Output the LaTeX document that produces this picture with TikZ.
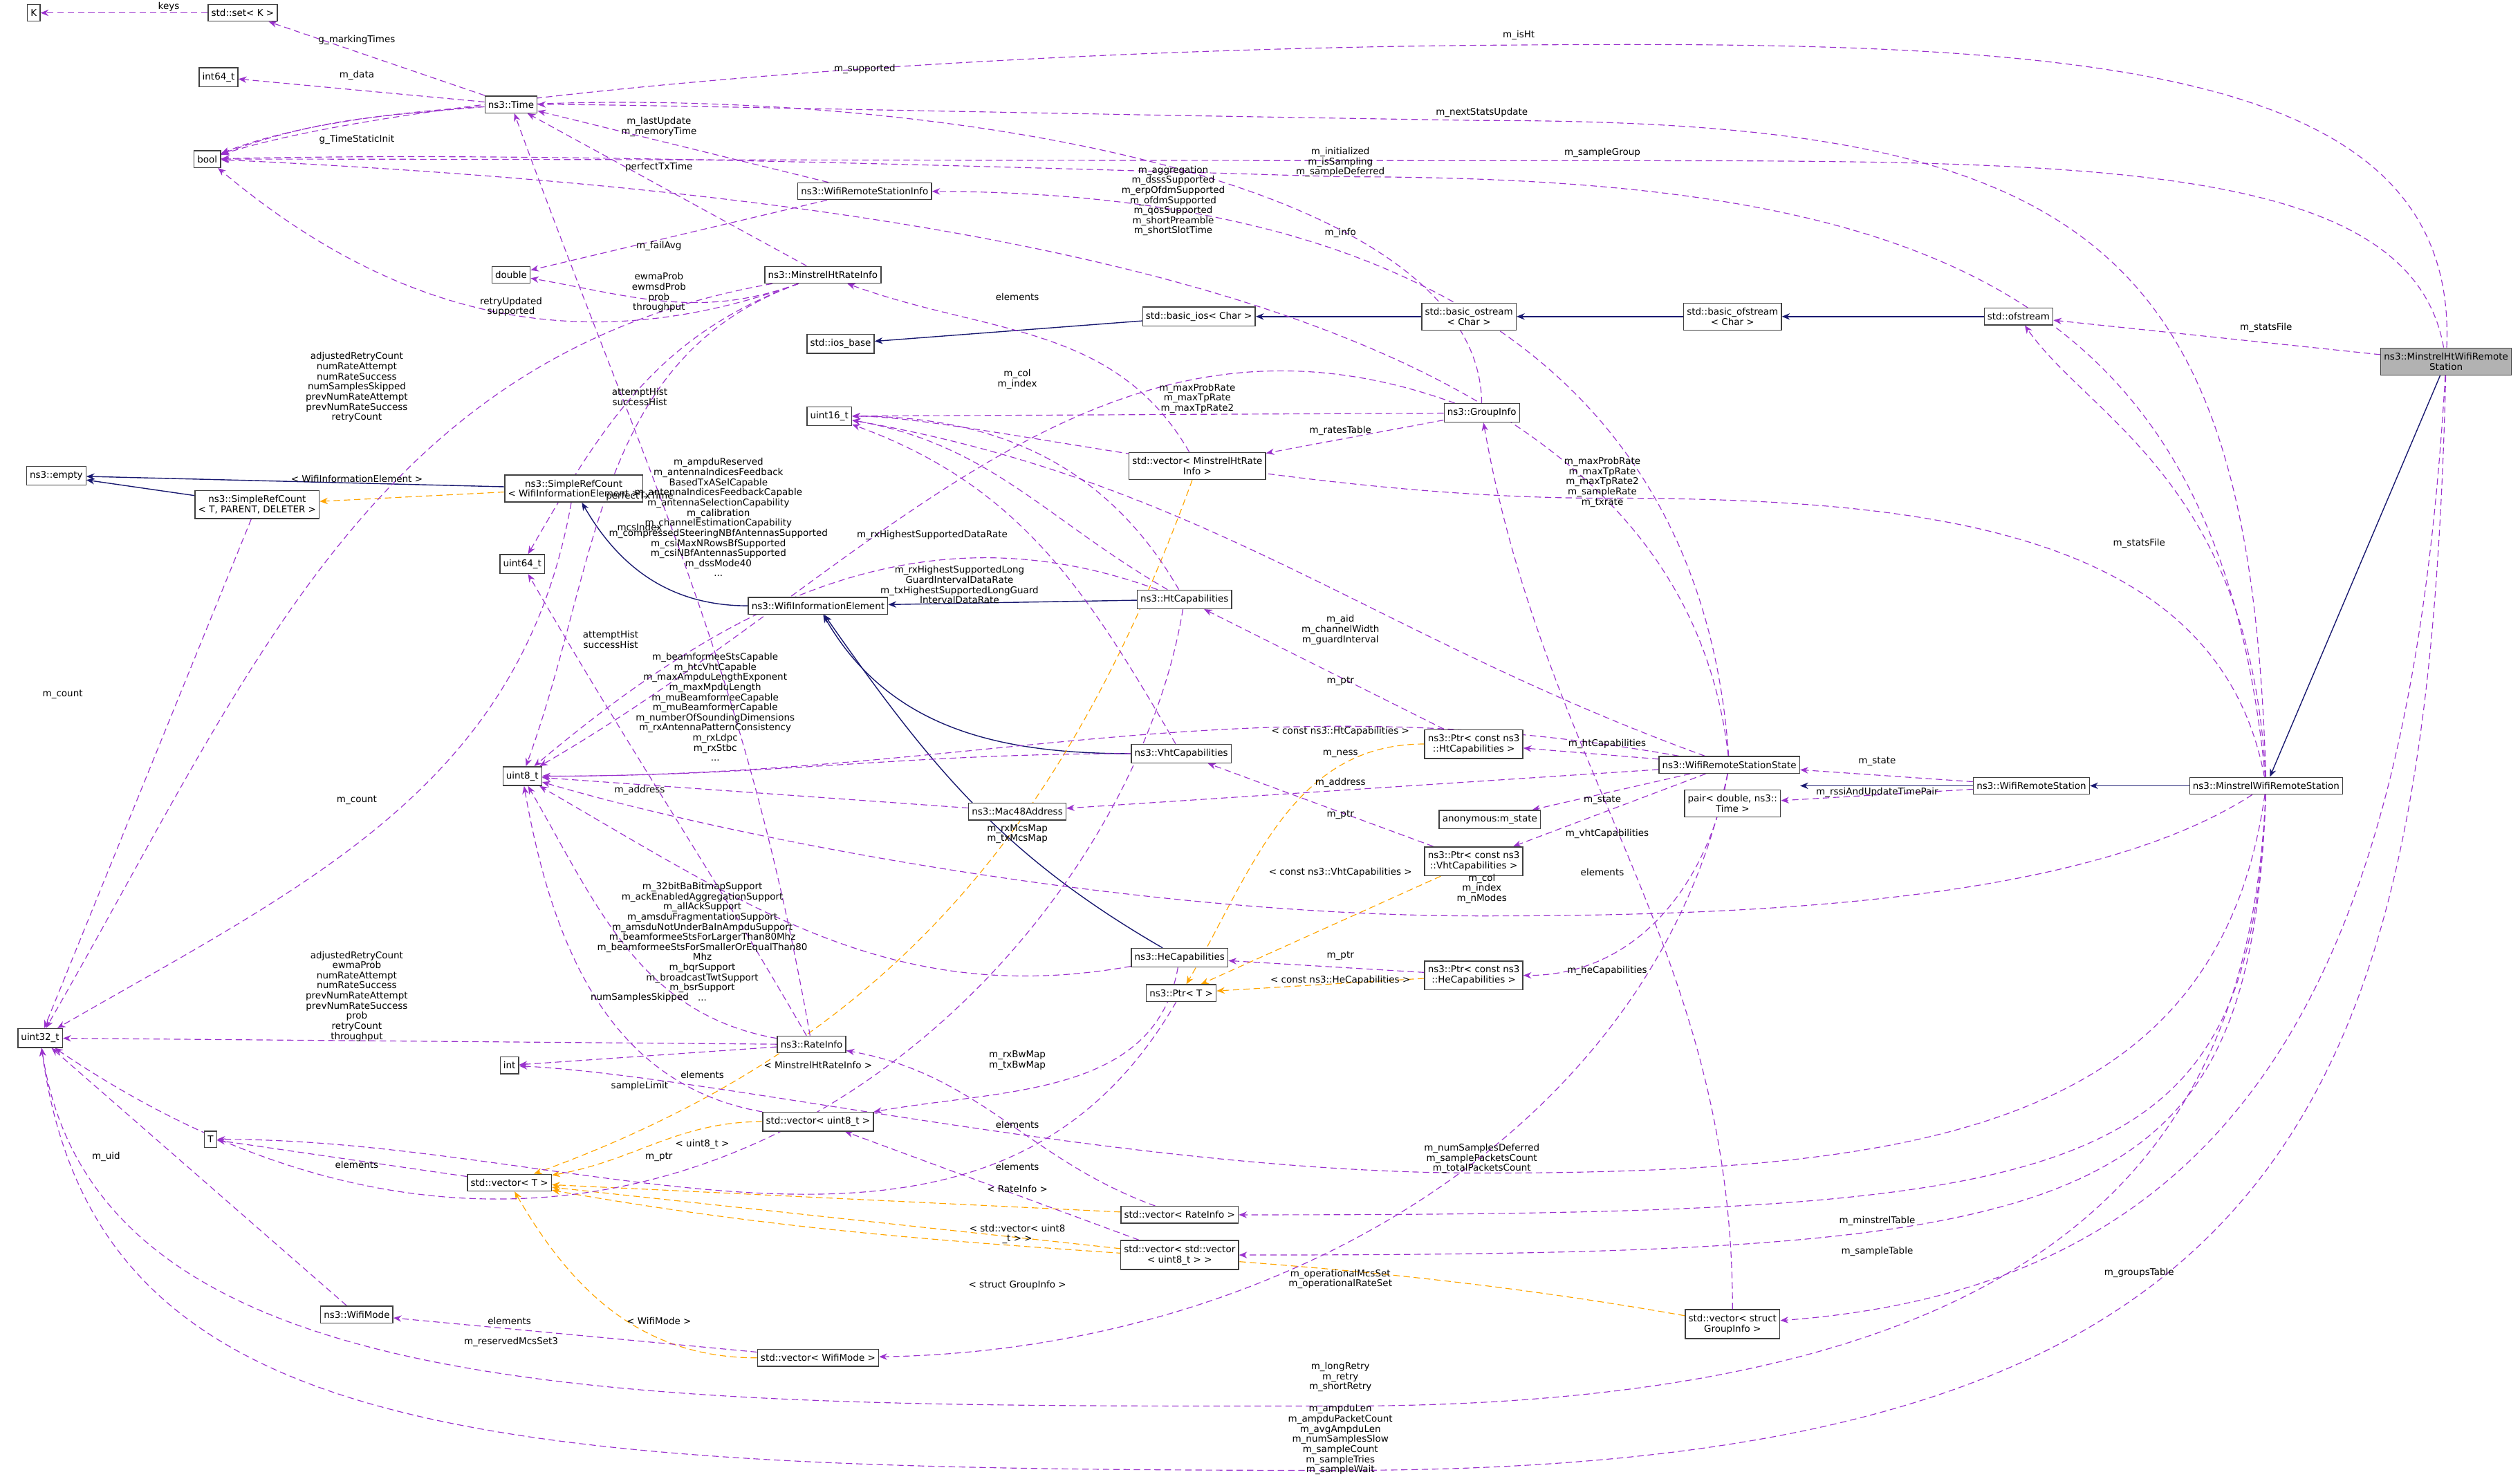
\documentclass[tikz,border=0pt]{standalone}
\usepackage{fontspec}
\setmainfont{DejaVu Sans}
\usetikzlibrary{arrows.meta}
\definecolor{memb}{HTML}{9A32CD}
\definecolor{inh}{HTML}{191970}
\definecolor{tmpl}{HTML}{FFA500}
\pgfdeclarelayer{background}
\pgfsetlayers{background,main}
\tikzset{
  box/.style={draw=black!75, line width=0.3pt, fill=white, inner xsep=1pt, inner ysep=1.5pt, align=center, font=\fontsize{2.9}{3.2}\selectfont},
  lbl/.style={inner sep=0pt, align=center, font=\fontsize{2.9}{3.15}\selectfont},
  member/.style={draw=memb, dash pattern=on 2pt off 1.2pt, line width=0.25pt, -{Stealth[length=2.5pt,width=2pt]}},
  inherit/.style={draw=inh, line width=0.3pt, -{Stealth[length=2.5pt,width=2pt]}},
  templ/.style={draw=tmpl, dash pattern=on 2pt off 1.2pt, line width=0.25pt, -{Stealth[length=2.5pt,width=2pt]}}
}
\begin{document}
\begin{tikzpicture}[x=0.5pt,y=-0.5pt]
    \useasboundingbox (0,0) rectangle (1568,920.4);
    % Clases y tipos
    \node[box] (K) at (21,8) {K};
    \node[box] (setK) at (151,8) {std::set< K >};
    \node[box] (int64) at (136,48) {int64\_t};
    \node[box] (time) at (318,65) {ns3::Time};
    \node[box] (bool) at (129,99) {bool};
    \node[box] (double) at (318,171) {double};
    \node[box] (rsinfo) at (538,119) {ns3::WifiRemoteStationInfo};
    \node[box] (mhtri) at (512,171) {ns3::MinstrelHtRateInfo};
    \node[box] (iosbase) at (523,214) {std::ios\_base};
    \node[box] (basicios) at (746,197) {std::basic\_ios< Char >};
    \node[box] (ostream) at (914,197) {std::basic\_ostream\\< Char >};
    \node[box] (ofstreamb) at (1078,197) {std::basic\_ofstream\\< Char >};
    \node[box] (ofstream) at (1256,197) {std::ofstream};
    \node[box, fill=black!30] (mhtwrs) at (1522,225) {ns3::MinstrelHtWifiRemote\\Station};
    \node[box] (uint16) at (516,259) {uint16\_t};
    \node[box] (groupinfo) at (922,257) {ns3::GroupInfo};
    \node[box] (vecmhtri) at (745,290) {std::vector< MinstrelHtRate\\Info >};
    \node[box] (empty) at (35,296) {ns3::empty};
    \node[box] (srcT) at (160,314) {ns3::SimpleRefCount\\< T, PARENT, DELETER >};
    \node[box] (srcWIE) at (357,304) {ns3::SimpleRefCount\\< WifiInformationElement >};
    \node[box] (uint64) at (325,351) {uint64\_t};
    \node[box] (wie) at (509,377) {ns3::WifiInformationElement};
    \node[box] (htcap) at (737,373) {ns3::HtCapabilities};
    \node[box] (vhtcap) at (735,469) {ns3::VhtCapabilities};
    \node[box] (uint8) at (325,483) {uint8\_t};
    \node[box] (mac48) at (633,505) {ns3::Mac48Address};
    \node[box] (ptrht) at (917,463) {ns3::Ptr< const ns3\\::HtCapabilities >};
    \node[box] (anonstate) at (927,510) {anonymous:m\_state};
    \node[box] (ptrvht) at (917,536) {ns3::Ptr< const ns3\\::VhtCapabilities >};
    \node[box] (wrss) at (1076,476) {ns3::WifiRemoteStationState};
    \node[box] (wrs) at (1264,489) {ns3::WifiRemoteStation};
    \node[box] (mwrs) at (1410,489) {ns3::MinstrelWifiRemoteStation};
    \node[box] (pair) at (1078,500) {pair< double, ns3::\\Time >};
    \node[box] (hecap) at (734,596) {ns3::HeCapabilities};
    \node[box] (ptrT) at (735,618) {ns3::Ptr< T >};
    \node[box] (ptrhe) at (917,607) {ns3::Ptr< const ns3\\::HeCapabilities >};
    \node[box] (uint32) at (25,646) {uint32\_t};
    \node[box] (rateinfo) at (505,650) {ns3::RateInfo};
    \node[box] (int) at (317,663) {int};
    \node[box] (vecu8) at (509,698) {std::vector< uint8\_t >};
    \node[box] (T) at (131,709) {T};
    \node[box] (vecT) at (317,736) {std::vector< T >};
    \node[box] (vecri) at (734,756) {std::vector< RateInfo >};
    \node[box] (vecvec) at (734,781) {std::vector< std::vector\\< uint8\_t > >};
    \node[box] (wifimode) at (222,818) {ns3::WifiMode};
    \node[box] (vecwm) at (509,845) {std::vector< WifiMode >};
    \node[box] (vecgi) at (1078,824) {std::vector< struct\\GroupInfo >};

    \begin{pgfonlayer}{background}
    % Herencia
    \draw[inherit] (basicios) -- (iosbase);
    \draw[inherit] (ostream) -- (basicios);
    \draw[inherit] (ofstreamb) -- (ostream);
    \draw[inherit] (ofstream) -- (ofstreamb);
    \draw[inherit] (srcWIE) -- (empty);
    \draw[inherit] (srcT) -- (empty);
    \draw[inherit] (wie) to[out=180,in=-60] (srcWIE);
    \draw[inherit] (htcap) -- (wie);
    \draw[inherit] (vhtcap) to[out=180,in=-60] (wie);
    \draw[inherit] (hecap) to[out=150,in=-55] (wie);
    \draw[inherit] (wrs) -- (wrss.east |- wrs);
    \draw[inherit] (mwrs) -- (wrs);
    \draw[inherit] (mhtwrs) -- (mwrs);

    % Plantillas
    \draw[templ] (srcWIE) -- (srcT);
    \draw[templ] (vecmhtri) to[out=-110,in=20] (vecT);
    \draw[templ] (vecu8) to[out=180,in=10] (vecT);
    \draw[templ] (vecri) -- (vecT);
    \draw[templ] (vecvec) -- (vecT);
    \draw[templ] (vecgi) to[out=170,in=-10] (vecT);
    \draw[templ] (vecwm) to[out=180,in=-60] (vecT);
    \draw[templ] (ptrht) to[out=180,in=60] (ptrT);
    \draw[templ] (ptrvht) -- (ptrT);
    \draw[templ] (ptrhe) -- (ptrT);

    % Miembros
    \draw[member] (setK) -- (K);
    \draw[member] (time) -- (setK);
    \draw[member] (time) -- (int64);
    \draw[member] (time) to[out=185,in=20] (bool);
    \draw[member] (rsinfo) -- (time);
    \draw[member] (rsinfo) -- (double);
    \draw[member] (mhtri) -- (time);
    \draw[member] (mhtri) to[out=200,in=-10] (double);
    \draw[member] (mhtri) to[out=200,in=-40] (bool);
    \draw[member] (mhtri) to[out=190,in=60] (uint32);
    \draw[member] (mhtri) to[out=200,in=60] (uint64);
    \draw[member] (mhtri) to[out=200,in=70] (uint8);
    \draw[member] (rateinfo) to[out=100,in=-70] (time);
    \draw[member] (rateinfo) -- (uint32);
    \draw[member] (rateinfo) to[out=170,in=-60] (uint8);
    \draw[member] (rateinfo) to[out=120,in=-60] (uint64);
    \draw[member] (rateinfo) -- (int);
    \draw[member] (srcWIE) to[out=-100,in=30] (uint32);
    \draw[member] (srcT) -- (uint32);
    \draw[member] (htcap) to[out=160,in=40] (uint8);
    \draw[member] (htcap) to[out=150,in=-10] (uint16);
    \draw[member] (htcap) to[out=120,in=0] (uint16);
    \draw[member] (htcap) .. controls (700,600) and (400,900) .. (uint32);
    \draw[member] (vhtcap) to[out=180,in=0] (uint8);
    \draw[member] (vhtcap) to[out=120,in=-20] (uint16);
    \draw[member] (hecap) to[out=190,in=-30] (uint8);
    \draw[member] (hecap) to[out=-100,in=10] (vecu8);
    \draw[member] (mac48) -- (uint8);
    \draw[member] (groupinfo) -- (uint16);
    \draw[member] (groupinfo) to[out=160,in=30] (uint8);
    \draw[member] (groupinfo) -- (vecmhtri);
    \draw[member] (groupinfo) .. controls (920,60) and (300,30) .. (bool);
    \draw[member] (vecmhtri) to[out=120,in=-20] (mhtri);
    \draw[member] (vecu8) to[out=170,in=-80] (uint8);
    \draw[member] (vecT) -- (T);
    \draw[member] (vecri) to[out=160,in=-10] (rateinfo);
    \draw[member] (vecvec) -- (vecu8);
    \draw[member] (vecgi) to[out=90,in=-80] (groupinfo);
    \draw[member] (vecwm) -- (wifimode);
    \draw[member] (wifimode) -- (uint32);
    \draw[member] (ptrT) to[out=-120,in=0] (T);
    \draw[member] (ptrht) -- (htcap);
    \draw[member] (ptrvht) -- (vhtcap);
    \draw[member] (ptrhe) -- (hecap);
    \draw[member] (wrss) -- (ptrht);
    \draw[member] (wrss) -- (ptrvht);
    \draw[member] (wrss) to[out=-100,in=0] (ptrhe);
    \draw[member] (wrss) -- (anonstate);
    \draw[member] (wrss) -- (mac48);
    \draw[member] (wrss) to[out=160,in=-10] (uint16);
    \draw[member] (wrss) to[out=170,in=0] (uint8);
    \draw[member] (wrss) .. controls (1050,250) and (800,130) .. (bool);
    \draw[member] (wrss) .. controls (1060,250) and (900,120) .. (rsinfo);
    \draw[member] (wrss) .. controls (1030,700) and (800,840) .. (vecwm);
    \draw[member] (wrs) -- (wrss);
    \draw[member] (wrs) -- (pair);
    \draw[member] (mhtwrs) -- (ofstream);
    \draw[member] (mhtwrs) .. controls (1530,40) and (1300,25) .. (945,28) .. controls (600,30) and (250,60) .. (bool);
    \draw[member] (mhtwrs) .. controls (1500,600) and (1400,800) .. (vecgi);
    \draw[member] (mhtwrs) .. controls (1510,700) and (1420,915) .. (834,915) .. controls (300,915) and (60,900) .. (uint32);
    \draw[member] (mhtwrs) .. controls (1500,100) and (1300,100) .. (997,100) .. controls (600,100) and (300,99) .. (bool);
    \draw[member] (mwrs) .. controls (1400,300) and (1300,260) .. (ofstream);
    \draw[member] (mwrs) .. controls (1400,150) and (1300,75) .. (922,75) .. controls (600,70) and (400,65) .. (time);
    \draw[member] (mwrs) .. controls (1380,180) and (1200,110) .. (834,110) .. controls (500,100) and (300,95) .. (bool);
    \draw[member] (mwrs) .. controls (1380,330) and (1200,310) .. (997,310) .. controls (800,310) and (600,259) .. (uint16);
    \draw[member] (mwrs) .. controls (1300,560) and (1100,570) .. (922,570) .. controls (700,570) and (450,520) .. (uint8);
    \draw[member] (mwrs) .. controls (1380,700) and (1200,730) .. (922,730) .. controls (700,730) and (450,670) .. (int);
    \draw[member] (mwrs) .. controls (1400,740) and (1300,756) .. (vecri);
    \draw[member] (mwrs) .. controls (1400,760) and (1300,781) .. (vecvec);
    \draw[member] (mwrs) .. controls (1400,700) and (1300,875) .. (834,875) .. controls (400,875) and (60,880) .. (uint32);
    \end{pgfonlayer}

    % Etiquetas
    \node[lbl] at (105,4) {keys};
    \node[lbl] at (222,25) {g\_markingTimes};
    \node[lbl] at (222,47) {m\_data};
    \node[lbl] at (222,87) {g\_TimeStaticInit};
    \node[lbl] at (410,79) {m\_lastUpdate\\m\_memoryTime};
    \node[lbl] at (410,104) {perfectTxTime};
    \node[lbl] at (410,153) {m\_failAvg};
    \node[lbl] at (410,182) {ewmaProb\\ewmsdProb\\prob\\throughput};
    \node[lbl] at (318,191) {retryUpdated\\supported};
    \node[lbl] at (222,241) {adjustedRetryCount\\numRateAttempt\\numRateSuccess\\numSamplesSkipped\\prevNumRateAttempt\\prevNumRateSuccess\\retryCount};
    \node[lbl] at (398,247) {attemptHist\\successHist};
    \node[lbl] at (398,309) {perfectTxTime};
    \node[lbl] at (398,328) {mcsIndex};
    \node[lbl] at (222,298) {< WifiInformationElement >};
    \node[lbl] at (538,43) {m\_supported};
    \node[lbl] at (945,22) {m\_isHt};
    \node[lbl] at (922,70) {m\_nextStatsUpdate};
    \node[lbl] at (834,101) {m\_initialized\\m\_isSampling\\m\_sampleDeferred};
    \node[lbl] at (997,95) {m\_sampleGroup};
    \node[lbl] at (730,125) {m\_aggregation\\m\_dsssSupported\\m\_erpOfdmSupported\\m\_ofdmSupported\\m\_qosSupported\\m\_shortPreamble\\m\_shortSlotTime};
    \node[lbl] at (834,145) {m\_info};
    \node[lbl] at (633,185) {elements};
    \node[lbl] at (1410,204) {m\_statsFile};
    \node[lbl] at (633,236) {m\_col\\m\_index};
    \node[lbl] at (745,248) {m\_maxProbRate\\m\_maxTpRate\\m\_maxTpRate2};
    \node[lbl] at (834,268) {m\_ratesTable};
    \node[lbl] at (997,300) {m\_maxProbRate\\m\_maxTpRate\\m\_maxTpRate2\\m\_sampleRate\\m\_txrate};
    \node[lbl] at (1331,338) {m\_statsFile};
    \node[lbl] at (39,432) {m\_count};
    \node[lbl] at (222,498) {m\_count};
    \node[lbl] at (447,322) {m\_ampduReserved\\m\_antennaIndicesFeedback\\BasedTxASelCapable\\m\_antennaIndicesFeedbackCapable\\m\_antennaSelectionCapability\\m\_calibration\\m\_channelEstimationCapability\\m\_compressedSteeringNBfAntennasSupported\\m\_csiMaxNRowsBfSupported\\m\_csiNBfAntennasSupported\\m\_dssMode40\\...};
    \node[lbl] at (580,333) {m\_rxHighestSupportedDataRate};
    \node[lbl] at (597,364) {m\_rxHighestSupportedLong\\GuardIntervalDataRate\\m\_txHighestSupportedLongGuard\\IntervalDataRate};
    \node[lbl] at (834,392) {m\_aid\\m\_channelWidth\\m\_guardInterval};
    \node[lbl] at (834,424) {m\_ptr};
    \node[lbl] at (380,398) {attemptHist\\successHist};
    \node[lbl] at (445,440) {m\_beamformeeStsCapable\\m\_htcVhtCapable\\m\_maxAmpduLengthExponent\\m\_maxMpduLength\\m\_muBeamformeeCapable\\m\_muBeamformerCapable\\m\_numberOfSoundingDimensions\\m\_rxAntennaPatternConsistency\\m\_rxLdpc\\m\_rxStbc\\...};
    \node[lbl] at (834,455) {< const ns3::HtCapabilities >};
    \node[lbl] at (1000,463) {m\_htCapabilities};
    \node[lbl] at (834,469) {m\_ness};
    \node[lbl] at (1168,474) {m\_state};
    \node[lbl] at (834,487) {m\_address};
    \node[lbl] at (398,492) {m\_address};
    \node[lbl] at (1168,493) {m\_rssiAndUpdateTimePair};
    \node[lbl] at (997,498) {m\_state};
    \node[lbl] at (834,507) {m\_ptr};
    \node[lbl] at (1000,519) {m\_vhtCapabilities};
    \node[lbl] at (633,519) {m\_rxMcsMap\\m\_txMcsMap};
    \node[lbl] at (834,543) {< const ns3::VhtCapabilities >};
    \node[lbl] at (997,543) {elements};
    \node[lbl] at (922,553) {m\_col\\m\_index\\m\_nModes};
    \node[lbl] at (437,586) {m\_32bitBaBitmapSupport\\m\_ackEnabledAggregationSupport\\m\_allAckSupport\\m\_amsduFragmentationSupport\\m\_amsduNotUnderBaInAmpduSupport\\m\_beamformeeStsForLargerThan80Mhz\\m\_beamformeeStsForSmallerOrEqualThan80\\Mhz\\m\_bqrSupport\\m\_broadcastTwtSupport\\m\_bsrSupport\\...};
    \node[lbl] at (834,595) {m\_ptr};
    \node[lbl] at (1000,604) {m\_heCapabilities};
    \node[lbl] at (834,610) {< const ns3::HeCapabilities >};
    \node[lbl] at (222,620) {adjustedRetryCount\\ewmaProb\\numRateAttempt\\numRateSuccess\\prevNumRateAttempt\\prevNumRateSuccess\\prob\\retryCount\\throughput};
    \node[lbl] at (398,621) {numSamplesSkipped};
    \node[lbl] at (633,660) {m\_rxBwMap\\m\_txBwMap};
    \node[lbl] at (509,663) {< MinstrelHtRateInfo >};
    \node[lbl] at (437,669) {elements};
    \node[lbl] at (398,676) {sampleLimit};
    \node[lbl] at (633,700) {elements};
    \node[lbl] at (410,720) {m\_ptr};
    \node[lbl] at (66,720) {m\_uid};
    \node[lbl] at (922,721) {m\_numSamplesDeferred\\m\_samplePacketsCount\\m\_totalPacketsCount};
    \node[lbl] at (222,725) {elements};
    \node[lbl] at (633,726) {elements};
    \node[lbl] at (437,712) {< uint8\_t >};
    \node[lbl] at (633,740) {< RateInfo >};
    \node[lbl] at (1168,760) {m\_minstrelTable};
    \node[lbl] at (633,768) {< std::vector< uint8\\\_t > >};
    \node[lbl] at (1168,779) {m\_sampleTable};
    \node[lbl] at (1331,792) {m\_groupsTable};
    \node[lbl] at (834,796) {m\_operationalMcsSet\\m\_operationalRateSet};
    \node[lbl] at (633,800) {< struct GroupInfo >};
    \node[lbl] at (317,822) {elements};
    \node[lbl] at (410,822) {< WifiMode >};
    \node[lbl] at (318,835) {m\_reservedMcsSet3};
    \node[lbl] at (834,857) {m\_longRetry\\m\_retry\\m\_shortRetry};
    \node[lbl] at (834,896) {m\_ampduLen\\m\_ampduPacketCount\\m\_avgAmpduLen\\m\_numSamplesSlow\\m\_sampleCount\\m\_sampleTries\\m\_sampleWait};
\end{tikzpicture}
\end{document}
